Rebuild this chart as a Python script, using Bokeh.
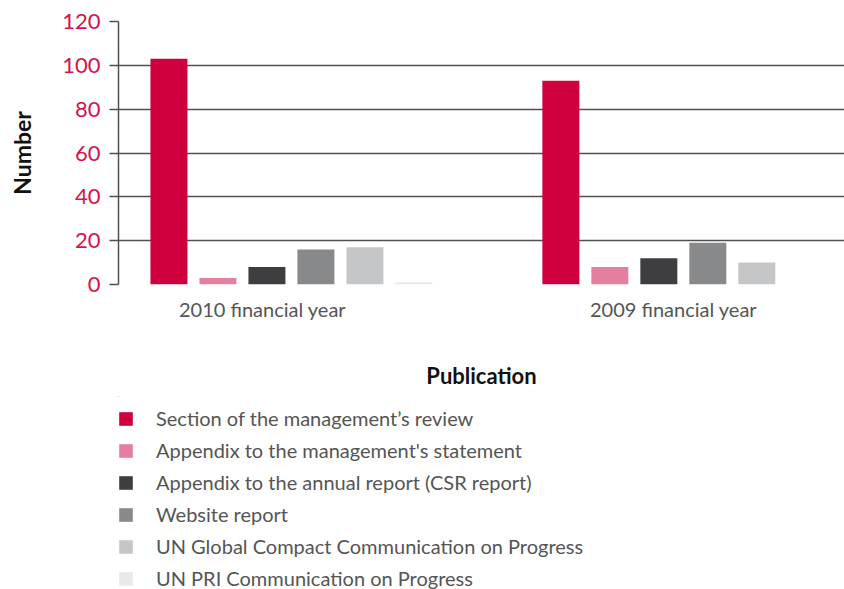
from bokeh.plotting import figure
from bokeh.layouts import column
from bokeh.models import Range1d, FixedTicker, Legend, LegendItem, ColumnDataSource
from bokeh.embed import file_html
from bokeh.resources import INLINE

# ---- data ----
years = ["2010 financial year", "2009 financial year"]
series = [
    "Section of the management\u2019s review",
    "Appendix to the management's statement",
    "Appendix to the annual report (CSR report)",
    "Website report",
    "UN Global Compact Communication on Progress",
    "UN PRI Communication on Progress",
]
values_2010 = [103, 3, 8, 16, 17, 1]
values_2009 = [93, 8, 12, 19, 10, 0]
y_ticks = [0, 20, 40, 60, 80, 100, 120]
y_max = 120

# ---- style ----
colors = ["#cf003d", "#e47f9e", "#3e3e40", "#88898b", "#c5c6c8", "#e8e9e9"]
FONT = "Lato"
TEXT_GREY = "#555555"
group_step = len(series) + 2          # bars per group + gap
label_dx = [-0.59, -0.20]             # year label x offsets (style)
W = 844
H1, H2 = 396, 193
TOP, LEFT = 21, 118
x_start, x_end = -1.03, 13.79

p = figure(width=W, height=H1, output_backend="svg", toolbar_location=None,
           x_range=Range1d(x_start, x_end), y_range=Range1d(0, y_max),
           min_border_left=LEFT, min_border_right=0, min_border_top=TOP,
           min_border_bottom=112)
p.outline_line_color = None
p.background_fill_color = "white"
p.border_fill_color = "white"

values_by_year = [values_2010, values_2009]
sources = []
for s, name in enumerate(series):
    xs = [g * group_step + s for g in range(len(years))]
    tops = [values_by_year[g][s] for g in range(len(years))]
    src = ColumnDataSource(dict(x=xs, top=tops))
    sources.append(src)
    p.vbar(x="x", top="top", bottom=0, width=0.755, source=src,
           fill_color=colors[s], line_color=None)

# grid
p.xgrid.visible = False
p.ygrid.ticker = FixedTicker(ticks=y_ticks)
p.ygrid.grid_line_color = "#505050"
p.ygrid.grid_line_width = 1.4

# y axis
ya = p.yaxis[0]
ya.ticker = FixedTicker(ticks=y_ticks)
ya.major_label_text_color = "#d4144a"
ya.major_label_text_font = FONT
ya.major_label_text_font_size = "22px"
ya.major_tick_out = 9
ya.major_tick_in = 0
ya.major_tick_line_color = "#505050"
ya.major_tick_line_width = 1.4
ya.minor_tick_line_color = None
ya.axis_line_color = "#505050"
ya.axis_line_width = 1.5
ya.major_label_standoff = 9
ya.axis_label = "Number"
ya.axis_label_text_font = FONT
ya.axis_label_text_font_style = "bold"
ya.axis_label_text_font_size = "23px"
ya.axis_label_text_color = "#111111"
ya.axis_label_standoff = 23

# x axis: year labels as ticks at group centres
year_ticks = [g * group_step + (len(series) - 1) / 2 + label_dx[g] for g in range(len(years))]
xa = p.xaxis[0]
xa.ticker = FixedTicker(ticks=year_ticks)
xa.major_label_overrides = {t: yr for t, yr in zip(year_ticks, years)}
xa.axis_line_color = None
xa.major_tick_line_color = None
xa.minor_tick_line_color = None
xa.major_tick_out = 0
xa.major_tick_in = 0
xa.major_label_standoff = 12
xa.major_label_text_font = FONT
xa.major_label_text_font_size = "20px"
xa.major_label_text_color = TEXT_GREY
xa.axis_label = "Publication"
xa.axis_label_text_font = FONT
xa.axis_label_text_font_style = "bold"
xa.axis_label_text_font_size = "22px"
xa.axis_label_text_color = "#111111"
xa.axis_label_standoff = 38

# ---- legend panel (same sources, ranges kept away from the data) ----
p2 = figure(width=W, height=H2, output_backend="svg", toolbar_location=None,
            x_range=Range1d(1000, 1001), y_range=Range1d(-1001, -1000),
            min_border_left=0, min_border_right=0, min_border_top=0,
            min_border_bottom=0)
p2.outline_line_color = None
p2.axis.visible = False
p2.grid.visible = False
p2.border_fill_color = "white"
p2.background_fill_color = "white"

legend_renderers = []
for s, name in enumerate(series):
    r = p2.vbar(x="x", top="top", bottom=0, width=0.755, source=sources[s],
                fill_color=colors[s], line_color=None)
    legend_renderers.append(r)

legend = Legend(items=[LegendItem(label=series[i], renderers=[legend_renderers[i]]) for i in range(len(series))],
                location=(-1, -2), orientation="vertical",
                glyph_width=17, glyph_height=17, label_standoff=22,
                label_height=26, spacing=6, padding=0, margin=0,
                label_text_font=FONT, label_text_font_size="20px",
                label_text_color=TEXT_GREY,
                border_line_color=None, background_fill_alpha=0)
p2.add_layout(legend)

open("out.html", "w").write(file_html(column(p, p2, spacing=0), INLINE))
